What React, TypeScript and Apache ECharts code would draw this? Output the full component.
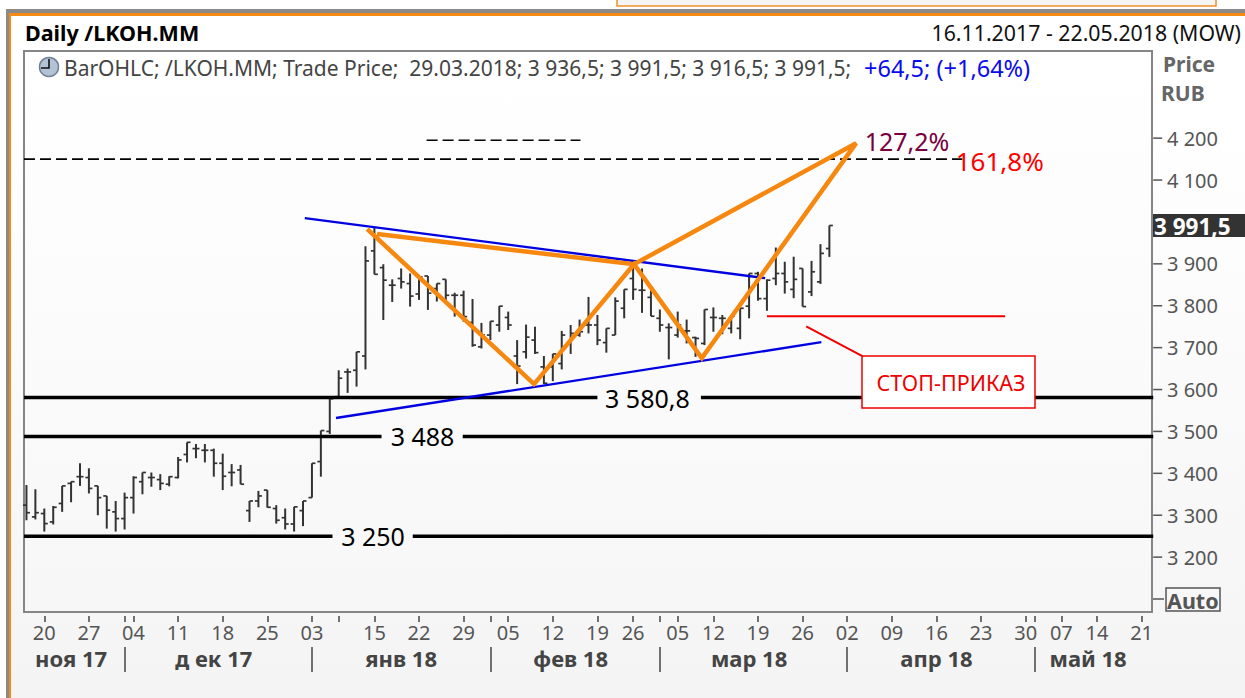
import React, { useEffect, useRef } from "react";
import * as echarts from "echarts";

// Trading days shown on the time axis (the last ones are still empty)
const tradingDays = [
  "16.11","17.11","20.11","21.11","22.11","23.11","24.11","27.11","28.11","29.11","30.11",
  "01.12","04.12","05.12","06.12","07.12","08.12","11.12","12.12","13.12","14.12","15.12","18.12","19.12","20.12","21.12","22.12","25.12","26.12","27.12","28.12","29.12",
  "03.01","04.01","05.01","09.01","10.01","11.01","12.01","15.01","16.01","17.01","18.01","19.01","22.01","23.01","24.01","25.01","26.01","29.01","30.01","31.01",
  "01.02","02.02","05.02","06.02","07.02","08.02","09.02","12.02","13.02","14.02","15.02","16.02","19.02","20.02","21.02","22.02","26.02","27.02","28.02",
  "01.03","02.03","05.03","06.03","07.03","09.03","12.03","13.03","14.03","15.03","16.03","19.03","20.03","21.03","22.03","23.03","26.03","27.03","28.03","29.03","30.03",
  "02.04","03.04","04.04","05.04","06.04","09.04","10.04","11.04","12.04","13.04","16.04","17.04","18.04","19.04","20.04","23.04","24.04","25.04","26.04","27.04","30.04",
  "02.05","03.05","04.05","07.05","08.05","10.05","11.05","14.05","15.05","16.05","17.05","18.05","21.05","22.05",
];

const opens = [
  3324,3296,3304,3284,3328,3376,3392,3390,3370,3346,3308,3292,3342,3380,3390,3385,3374,3390,3445,3459,3455,3455,3424,3402,3408,
  3311,3334,3360,3316,3294,3279,3311,3342,3428,3500,3583,3642,3646,3680,3931,3891,3849,3865,3853,3828,3871,3841,3863,3825,3825,
  3760,3702,3730,3754,3772,3680,3690,3718,3654,3654,3662,3710,3730,3754,3754,3712,3730,3794,3865,3837,3820,3770,3748,3730,3740,3724,
  3710,3772,3770,3746,3746,3799,3877,3817,3865,3877,3839,3889,3833,3857,3936.5,
];
const highs = [
  3372,3362,3316,3322,3370,3380,3424,3412,3370,3346,3334,3354,3393,3402,3402,3398,3393,3439,3474,3470,3470,3459,3447,3422,3420,
  3334,3358,3360,3324,3316,3320,3334,3424,3502,3578,3646,3650,3690,3942,3988,3899,3863,3889,3877,3873,3871,3853,3863,3831,3836,
  3816,3759,3763,3799,3786,3718,3755,3750,3680,3685,3740,3754,3767,3821,3778,3746,3820,3839,3897,3889,3837,3791,3758,3786,3767,3726,
  3791,3796,3778,3775,3794,3877,3881,3863,3939,3905,3917,3889,3907,3947,3991.5,
];
const lows = [
  3288,3290,3261,3278,3308,3331,3370,3352,3300,3268,3261,3266,3304,3350,3368,3360,3369,3388,3426,3436,3426,3392,3360,3369,3374,
  3284,3319,3318,3280,3266,3261,3274,3342,3392,3494,3583,3592,3607,3648,3875,3766,3809,3841,3798,3814,3790,3810,3810,3774,3762,
  3702,3698,3718,3738,3742,3613,3674,3685,3613,3620,3648,3685,3726,3734,3706,3688,3730,3770,3814,3783,3775,3738,3672,3724,3710,3678,
  3706,3738,3732,3734,3720,3770,3812,3788,3849,3829,3818,3798,3823,3852,3916.5,
];
const closes = [
  3306,3306,3280,3319,3370,3380,3392,3364,3342,3312,3292,3342,3390,3402,3390,3376,3392,3432,3474,3459,3455,3424,3393,3402,3374,
  3334,3346,3319,3288,3279,3320,3334,3424,3502,3578,3627,3642,3690,3907,3875,3861,3849,3857,3823,3869,3830,3853,3825,3825,3774,
  3706,3730,3763,3799,3754,3656,3725,3688,3615,3685,3730,3734,3738,3754,3718,3746,3811,3839,3839,3837,3775,3754,3748,3754,3740,3722,
  3791,3772,3770,3775,3794,3877,3817,3861,3877,3857,3863,3798,3881,3925,3991.5,
];

// Axis labels
const priceTicks = [3200,3300,3400,3500,3600,3700,3800,3900,4100,4200];
const labelledDays = ["20.11","27.11","04.12","11.12","18.12","25.12","03.01","15.01","22.01","29.01","05.02","12.02","19.02","26.02","05.03","12.03","19.03","26.03","02.04","09.04","16.04","23.04","30.04","07.05","14.05","21.05"];
const unlabelledDays = ["01.12","09.01","01.02","01.03","02.05"];
const monthSeparators = ["01.12","03.01","01.02","01.03","02.04","02.05"];
const monthLabelDays: Record<string, string> = {
  "23.11": "ноя 17", "15.12": "д ек 17", "18.01": "янв 18", "14.02": "фев 18",
  "16.03": "мар 18", "16.04": "апр 18", "11.05": "май 18",
};

// Annotations in [bar position, price]
const orangePattern = [[39.3,3971],[68.1,3899],[93,4188],[75.7,3675],[68.1,3899],[56.9,3613],[38.2,3983]];
const blueUpper = [[31.2,4009],[82.8,3866]];
const blueLower = [[34.7,3532],[89.1,3713]];
const redStop = [[83,3775],[109.7,3775]];
const redPointer = [[87.4,3751],[93.7,3680]];
const dashLong = [[-0.28,4150],[104.9,4150]];
const dashShort = [[44.85,4195],[62.1,4195]];
const levelSegments = [
  { level: 3580.8, label: "3 580,8", spans: [[-0.28,64.0],[75.6,126.3]], at: 69.6 },
  { level: 3488, label: "3 488", spans: [[-0.28,39.8],[48.9,126.3]], at: 44.4 },
  { level: 3250, label: "3 250", spans: [[-0.28,34.3],[43.3,126.3]], at: 38.85 },
];

const FONT = '"Noto Sans", sans-serif';

function lineSeries(data: number[][], color: string, width: number, type: any = "solid") {
  return {
    type: "line", xAxisIndex: 2, data, symbol: "none", silent: true, clip: false, z: 5,
    lineStyle: { color, width, type, cap: "butt", join: "miter" },
  };
}

export default function App() {
  const ref = useRef<HTMLDivElement>(null);
  useEffect(() => {
    document.body.style.margin = "0";
    const chart = echarts.init(ref.current!, undefined, { renderer: "svg" });
    const ohlc = opens.map((o, i) => [i, o, highs[i], lows[i], closes[i]]);
    const levelLines = levelSegments.flatMap((l) =>
      l.spans.map((s) => lineSeries([[s[0], l.level], [s[1], l.level]], "#000", 3.5))
    );
    const text = (x: number, y: number, t: string, style: any, z = 1) => ({
      type: "text", x, y, z,
      style: { text: t, fontFamily: FONT, fontSize: 21, fill: "#444", verticalAlign: "middle", ...style },
    });
    const hiddenLine = { show: true, lineStyle: { color: "transparent", width: 0 } };
    const option: any = {
      animation: false,
      grid: { left: 22, width: 1133, top: 51, height: 561 },
      xAxis: [
        {
          type: "category", data: tradingDays, position: "bottom", offset: 4,
          axisLine: hiddenLine,
          axisTick: {
            show: true, alignWithLabel: true, length: 6, lineStyle: { color: "#444", width: 1.5 },
            interval: (_: number, v: string) => labelledDays.includes(v) || unlabelledDays.includes(v),
          },
          axisLabel: {
            margin: 6, fontFamily: FONT, fontSize: 20, color: "#555", hideOverlap: false,
            interval: (_: number, v: string) => labelledDays.includes(v),
            formatter: (v: string) => v.slice(0, 2),
          },
        },
        {
          type: "category", data: tradingDays, position: "bottom", offset: 60,
          axisLine: hiddenLine,
          axisTick: {
            show: true, inside: true, alignWithLabel: true, length: 25, lineStyle: { color: "#444", width: 1.5 },
            interval: (_: number, v: string) => monthSeparators.includes(v),
          },
          axisLabel: {
            inside: true, margin: 3, fontFamily: FONT, fontSize: 22, fontWeight: "bold", color: "#444",
            interval: (_: number, v: string) => v in monthLabelDays,
            formatter: (v: string) => monthLabelDays[v] ?? "",
          },
        },
        { type: "value", min: -0.5, max: 126.5, show: false },
      ],
      yAxis: {
        type: "value", position: "right", min: 3069, max: 4408, scale: true, splitLine: { show: false },
        axisLine: { show: false },
        axisTick: { show: false },
        axisLabel: {
          margin: 12, fontFamily: FONT, fontSize: 20, color: "#555", customValues: priceTicks,
          formatter: (v: number) => `${Math.floor(v / 1000)} ${String(v % 1000).padStart(3, "0")}`,
        },
      },
      series: [
        {
          type: "custom", xAxisIndex: 2, data: priceTicks.map((p) => [126.3, p]), z: 3, silent: true, clip: false,
          encode: { x: 0, y: 1 },
          renderItem: (_: any, api: any) => {
            const [x, y] = api.coord([api.value(0), api.value(1)]);
            return { type: "line", shape: { x1: x, y1: y, x2: x + 9, y2: y }, style: { stroke: "#555", lineWidth: 1.5 } };
          },
        },
        {
          type: "custom", xAxisIndex: 0, data: ohlc, z: 3, silent: true,
          encode: { x: 0, y: [1, 2, 3, 4] },
          renderItem: (_: any, api: any) => {
            const x = api.coord([api.value(0), 0])[0];
            const yOf = (d: number) => api.coord([api.value(0), api.value(d)])[1];
            const st = { stroke: "#333", lineWidth: 2, fill: "none" };
            const tick = { stroke: "#333", lineWidth: 1.7, fill: "none" };
            return {
              type: "group",
              children: [
                { type: "line", shape: { x1: x, y1: yOf(2), x2: x, y2: yOf(3) }, style: st },
                { type: "line", shape: { x1: x - 3.5, y1: yOf(1), x2: x, y2: yOf(1) }, style: tick },
                { type: "line", shape: { x1: x, y1: yOf(4), x2: x + 3.5, y2: yOf(4) }, style: tick },
              ],
            };
          },
        },
        ...levelLines,
        lineSeries(dashLong, "#000", 1.6, [11, 5]),
        lineSeries(dashShort, "#000", 1.6, [11, 5]),
        lineSeries(blueUpper, "#0000e0", 2.4),
        lineSeries(blueLower, "#0000e0", 2.4),
        lineSeries(redStop, "#f00000", 2),
        lineSeries(redPointer, "#f00000", 2),
        lineSeries(orangePattern, "#f7880f", 4.5),
        {
          type: "scatter", xAxisIndex: 2, symbolSize: 0, silent: true, z: 6, itemStyle: { opacity: 1 },
          data: [
            ...levelSegments.map((l) => ({
              value: [l.at, l.level],
              label: { formatter: l.label, color: "#000", fontSize: 25 },
            })),
            { value: [98.7, 4193], label: { formatter: "127,2%", color: "#780040", fontSize: 25 } },
            { value: [109.1, 4145], label: { formatter: "161,8%", color: "#ff0000", fontSize: 26 } },
          ],
          label: { show: true, position: "inside", fontFamily: FONT },
        },
      ],
      graphic: [
        // page and panel
        { type: "rect", z: -5, shape: { x: 0, y: 0, width: 1245, height: 698 }, style: { fill: "#fff" } },
        { type: "rect", z: -5, shape: { x: 617, y: -2, width: 599, height: 8 }, style: { fill: "#f5f5f5", stroke: "#f0902a", lineWidth: 1.5 } },
        { type: "rect", z: -4, shape: { x: 6, y: 9, width: 1239, height: 689 }, style: { fill: "#8a8a8a" } },
        { type: "rect", z: -4, shape: { x: 9, y: 13, width: 1236, height: 685 }, style: { fill: "#f58a14" } },
        {
          type: "rect", z: -4, shape: { x: 11, y: 16, width: 1234, height: 682 },
          style: { fill: new echarts.graphic.LinearGradient(0, 0, 0, 1, [{ offset: 0, color: "#ffffff" }, { offset: 0.15, color: "#ffffff" }, { offset: 1, color: "#f4f4f4" }]) },
        },
        {
          type: "rect", z: -3, shape: { x: 24, y: 51, width: 1128, height: 561 },
          style: {
            fill: new echarts.graphic.LinearGradient(0, 0, 0, 1, [{ offset: 0, color: "#ffffff" }, { offset: 1, color: "#f7f7f7" }]),
            stroke: "#858585", lineWidth: 2,
          },
        },
        // header
        text(25, 32, "Daily /LKOH.MM", { fontWeight: "bold", fill: "#000", fontSize: 21.5 }),
        text(1241, 32, "16.11.2017 - 22.05.2018 (MOW)", { align: "right", fill: "#111", fontSize: 21.3 }),
        { type: "circle", z: 1, shape: { cx: 49, cy: 67, r: 9.5 }, style: { fill: "#b4c2d6", stroke: "#6f7f95", lineWidth: 1.5 } },
        { type: "polyline", z: 1, shape: { points: [[49, 59], [49, 68], [41, 68]] }, style: { stroke: "#111", lineWidth: 1.6, fill: "none" } },
        text(64, 68, "BarOHLC; /LKOH.MM; Trade Price;  29.03.2018; 3 936,5; 3 991,5; 3 916,5; 3 991,5;", { fill: "#444" }),
        text(864, 68, "+64,5; (+1,64%)", { fill: "#0a0aee", fontSize: 23.5 }),
        text(1163, 64, "Price", { fontWeight: "bold", fill: "#666" }),
        text(1161, 93, "RUB", { fontWeight: "bold", fill: "#666" }),
        // last price tag
        { type: "rect", z: 1, shape: { x: 1153, y: 214, width: 92, height: 23 }, style: { fill: "#333" } },
        text(1154, 226, "3 991,5", { fontWeight: "bold", fill: "#fff", fontSize: 22.5 }),
        // Auto button
        { type: "line", z: 1, shape: { x1: 1153, y1: 599, x2: 1164, y2: 599 }, style: { stroke: "#555", lineWidth: 1.5 } },
        { type: "rect", z: 1, shape: { x: 1166, y: 588, width: 54, height: 23 }, style: { fill: "#f7f7f7", stroke: "#555", lineWidth: 1.5 } },
        text(1167, 600, "Auto", { fontWeight: "bold", fill: "#555", fontSize: 21.5 }),
        // stop order callout
        { type: "rect", z: 20, shape: { x: 862, y: 356, width: 173, height: 52 }, style: { fill: "#fff", stroke: "#f00000", lineWidth: 1.5 } },
        text(951, 382, "СТОП-ПРИКАЗ", { align: "center", fill: "#f00000", fontSize: 21.5 }, 21),
      ],
    };
    chart.setOption(option);
    return () => chart.dispose();
  }, []);
  return <div ref={ref} style={{ position: "absolute", left: 0, top: 0, width: 1245, height: 698 }} />;
}
